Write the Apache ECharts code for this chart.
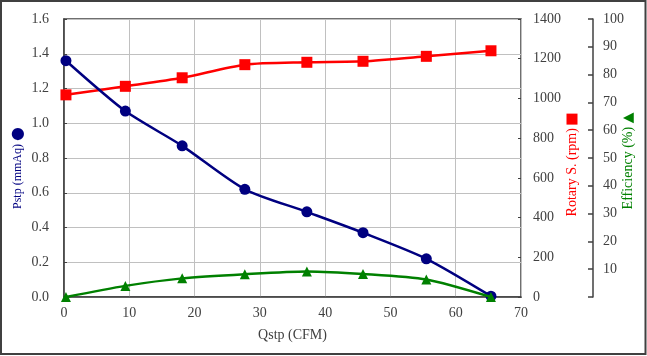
<!DOCTYPE html>
<html>
<head>
<meta charset="utf-8">
<script src="https://cdn.jsdelivr.net/npm/echarts@6/dist/echarts.min.js"></script>
<style>html,body{margin:0;padding:0;background:#fff;}#c{width:647px;height:356px;}</style>
</head>
<body>
<div id="c"></div>
<script>
var qstp = [0.3, 9.4, 18.1, 27.7, 37.2, 45.8, 55.5, 65.4];
var pstp = [1.36, 1.07, 0.87, 0.62, 0.49, 0.37, 0.22, 0.005];
var rpm = [1018, 1061, 1104, 1170, 1182, 1187, 1212, 1240];
var eff = [0, 4.0, 6.7, 8.2, 9.2, 8.3, 6.3, 0];

function pairs(xs, ys) { return xs.map(function (x, i) { return [x, ys[i]]; }); }

var FONT = '"Liberation Serif", "Times New Roman", serif';
var TXT = '#404040';
var chart = echarts.init(document.getElementById('c'));
chart.setOption({
  animation: false,
  backgroundColor: '#fff',
  textStyle: { fontFamily: FONT },
  graphic: [{
    type: 'rect', shape: { x: 1, y: 1, width: 644.5, height: 353 },
    style: { fill: 'none', stroke: '#404040', lineWidth: 2 }, silent: true
  }],
  grid: { left: 64, right: 126, top: 19, bottom: 59, show: true, borderColor: '#404040', borderWidth: 1.5, backgroundColor: 'transparent', containLabel: false, outerBoundsMode: 'none' },
  xAxis: {
    type: 'value', min: 0, max: 70, interval: 10,
    name: 'Qstp (CFM)', nameLocation: 'middle', nameGap: 31, nameMoveOverlap: false,
    nameTextStyle: { color: TXT, fontSize: 14, fontFamily: FONT },
    axisLine: { show: true, lineStyle: { color: '#404040', width: 1.5 } },
    axisTick: { show: false },
    axisLabel: { color: TXT, fontSize: 14, fontFamily: FONT, margin: 9 },
    splitLine: { show: true, lineStyle: { color: '#c0c0c0', width: 1 } }
  },
  yAxis: [{
    type: 'value', min: 0, max: 1.6, interval: 0.2, position: 'left',
    name: 'Pstp (mmAq) {c|●}', nameLocation: 'middle', nameGap: 38, nameRotate: 90, nameMoveOverlap: false,
    nameTextStyle: { color: '#000080', fontSize: 12, fontFamily: FONT, padding: [0, 20, 0, 0],
      rich: { c: { color: '#000080', fontSize: 16, fontFamily: 'DejaVu Sans' } } },
    axisLine: { show: true, lineStyle: { color: '#404040', width: 1.5 } },
    axisTick: { show: true, inside: true, length: 3, lineStyle: { color: '#404040' } },
    axisLabel: { color: TXT, fontSize: 14, fontFamily: FONT, margin: 15, formatter: function (v) { return v.toFixed(1); } },
    splitLine: { show: true, lineStyle: { color: '#c0c0c0', width: 1 } }
  }, {
    type: 'value', min: 0, max: 1400, interval: 200, position: 'right',
    name: 'Rotary S. (rpm) {s|}', nameLocation: 'middle', nameGap: 44, nameRotate: 90, nameMoveOverlap: false,
    nameTextStyle: { color: '#ff0000', fontSize: 14, fontFamily: FONT, padding: [0, 14, 0, 0],
      rich: { s: { width: 11, height: 11, backgroundColor: '#ff0000' } } },
    axisLine: { show: false },
    axisTick: { show: true, inside: true, length: 3, lineStyle: { color: '#404040' } },
    axisLabel: { color: TXT, fontSize: 14, fontFamily: FONT, margin: 12, formatter: function (v) { return String(v); } },
    splitLine: { show: false }
  }, {
    type: 'value', min: 0, max: 100, interval: 10, position: 'right', offset: 72,
    name: 'Efficiency (%) {t|▲}', nameLocation: 'middle', nameGap: 28, nameRotate: 90, nameMoveOverlap: false,
    nameTextStyle: { color: '#008000', fontSize: 14, fontFamily: FONT, padding: [0, 6, 0, 0],
      rich: { t: { color: '#008000', fontSize: 14, fontFamily: 'DejaVu Sans' } } },
    axisLine: { show: true, lineStyle: { color: '#404040', width: 1.5 } },
    axisTick: { show: true, inside: true, length: 5, lineStyle: { color: '#404040', width: 1.5 } },
    axisLabel: { color: TXT, fontSize: 14, fontFamily: FONT, margin: 10, formatter: function (v) { return v === 0 ? '' : String(v); } },
    splitLine: { show: false }
  }],
  series: [{
    type: 'line', yAxisIndex: 0, data: pairs(qstp, pstp), smooth: 0.25,
    symbol: 'circle', symbolSize: 11,
    lineStyle: { color: '#000080', width: 2.5 }, itemStyle: { color: '#000080' }, z: 3
  }, {
    type: 'line', yAxisIndex: 1, data: pairs(qstp, rpm), smooth: 0.25,
    symbol: 'rect', symbolSize: 11,
    lineStyle: { color: '#ff0000', width: 2.5 }, itemStyle: { color: '#ff0000' }, z: 2
  }, {
    type: 'line', yAxisIndex: 2, data: pairs(qstp, eff), smooth: 0.25,
    symbol: 'triangle', symbolSize: 10,
    lineStyle: { color: '#008000', width: 2.5 }, itemStyle: { color: '#008000' }, z: 4
  }]
});
</script>
</body>
</html>
